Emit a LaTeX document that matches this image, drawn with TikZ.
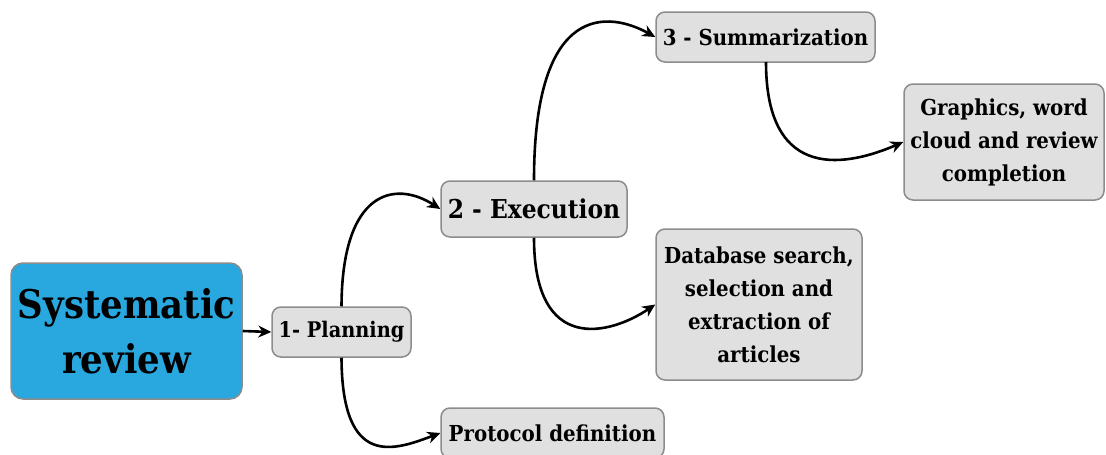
\documentclass[tikz,border=0pt]{standalone}
\usepackage{fontspec}
\setmainfont{DejaVu Serif Condensed}
\usetikzlibrary{arrows.meta}
\definecolor{boxgray}{HTML}{E0E0E0}
\definecolor{boxline}{HTML}{8C8C8C}
\definecolor{srblue}{HTML}{29A8E0}
\tikzset{
  box/.style={draw=boxline, line width=1.5pt, fill=boxgray, rounded corners=9pt, align=center, font=\bfseries, inner sep=0pt},
  conn/.style={line width=2.6pt, -{Stealth[length=13pt,width=12pt]}},
}
\begin{document}
\begin{tikzpicture}[x=1pt,y=-1pt]
\useasboundingbox (0,0) rectangle (1106,455);
\node[box, fill=srblue, rounded corners=12pt, minimum width=231pt, minimum height=136pt, font=\bfseries\fontsize{39.5}{55}\selectfont] (sr) at (126.5,331) {Systematic\\review};
\node[box, minimum width=139pt, minimum height=50pt, font=\bfseries\fontsize{21.5}{22}\selectfont] (plan) at (341.5,332) {1- Planning};
\node[box, minimum width=186pt, minimum height=56pt, font=\bfseries\fontsize{26}{26}\selectfont] (exe) at (534,209) {2 - Execution};
\node[box, minimum width=219pt, minimum height=50pt, font=\bfseries\fontsize{22}{22}\selectfont] (sum) at (765.5,37) {3 - Summarization};
\node[box, minimum width=200pt, minimum height=116pt, font=\bfseries\fontsize{22}{33}\selectfont] (gra) at (1004,142) {Graphics, word\\cloud and review\\completion};
\node[box, minimum width=206pt, minimum height=151pt, font=\bfseries\fontsize{22}{33}\selectfont] (db) at (759,304.5) {Database search,\\selection and\\extraction of\\articles};
\node[box, minimum width=223pt, minimum height=50pt, font=\bfseries\fontsize{22}{22}\selectfont] (pro) at (552.5,433) {Protocol definition};

\draw[conn] (sr.east) -- (plan.west);
\draw[conn] (plan.north) .. controls (342,190) and (395,180) .. (exe.west);
\draw[conn] (plan.south) .. controls (342,470) and (395,450) .. (pro.west);
\draw[conn] (exe.north) .. controls (534,0) and (610,12) .. (sum.west);
\draw[conn] (exe.south) .. controls (534,355) and (610,335) .. (db.west);
\draw[conn] (766,62) .. controls (766,185) and (850,165) .. (gra.west);
\end{tikzpicture}
\end{document}
